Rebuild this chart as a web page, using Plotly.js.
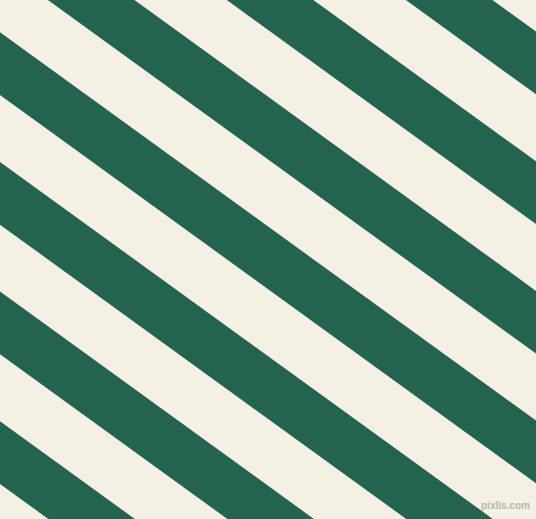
<!DOCTYPE html>
<html>
<head>
<meta charset="utf-8">
<script src="https://cdn.plot.ly/plotly-3.0.1.min.js"></script>
<style>
  html, body { margin: 0; padding: 0; background: #f5f0e4; }
  #chart { width: 536px; height: 519px; }
</style>
</head>
<body>
<div id="chart"></div>
<script>
// y where each green band's upper edge crosses the left border (x = 0)
const bandTops = [-356.7, -227.0, -97.4, 32.3, 162.0, 291.6, 421.3];
// vertical thickness of each green band
const bandHeights = [62.7, 62.7, 62.7, 62.7, 62.7, 62.7, 62.7];
const slope = 0.7244; // drop per pixel to the right
const xEdges = [0, 536];

const green = '#246350';
const cream = '#f5f0e4';

const traces = bandTops.map((top, i) => {
  const bottom = top + bandHeights[i];
  const x = [xEdges[0], xEdges[1], xEdges[1], xEdges[0], xEdges[0]];
  const y = [
    top + slope * xEdges[0],
    top + slope * xEdges[1],
    bottom + slope * xEdges[1],
    bottom + slope * xEdges[0],
    top + slope * xEdges[0],
  ];
  return {
    x: x,
    y: y,
    type: 'scatter',
    mode: 'lines',
    fill: 'toself',
    fillcolor: green,
    line: { width: 0, color: green },
    hoverinfo: 'skip',
    showlegend: false,
  };
});

const layout = {
  width: 536,
  height: 519,
  margin: { l: 0, r: 0, t: 0, b: 0 },
  paper_bgcolor: cream,
  plot_bgcolor: cream,
  xaxis: { range: [0, 536], visible: false, fixedrange: true },
  yaxis: { range: [519, 0], visible: false, fixedrange: true },
  annotations: [
    {
      text: '<b>pixlis.com</b>',
      xref: 'paper',
      yref: 'paper',
      x: 0.993,
      y: 0.012,
      xanchor: 'right',
      yanchor: 'bottom',
      showarrow: false,
      font: { family: 'Liberation Sans Narrow, Liberation Sans', size: 10, color: '#b5b9ab' },
    },
  ],
};

const config = {
  displayModeBar: false,
  staticPlot: true,
};

Plotly.newPlot('chart', traces, layout, config);
</script>
</body>
</html>
